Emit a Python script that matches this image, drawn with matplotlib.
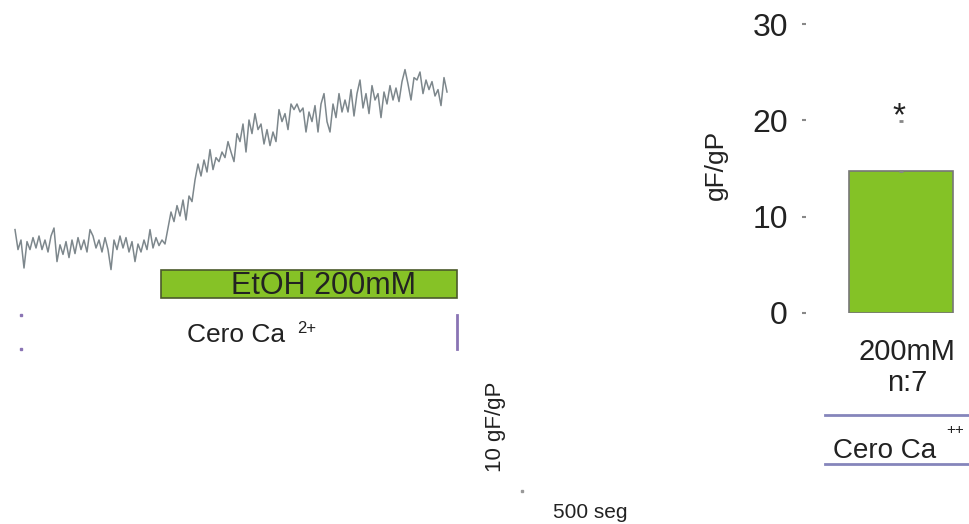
import numpy as np
import matplotlib
matplotlib.use("Agg")
import matplotlib.pyplot as plt
from matplotlib.lines import Line2D

plt.rcParams['font.family'] = ['Liberation Sans', 'DejaVu Sans']

# Fluorescence trace (gF/gP), one sample every 12 s
sample_period = 12
trace = [1.9, -0.6, 0.6, -2.9, 0.4, -0.6, 0.9, -0.4, 1.1, -0.6,
         0.6, -0.9, 1.1, 2.1, -2.1, 0.0, -1.2, 0.4, -1.6, 0.6,
         -1.1, 0.9, -0.6, 0.6, -0.9, 1.9, 1.1, -0.4, 0.6, -0.9,
         0.9, -0.6, -3.1, 0.6, -0.6, 1.1, -0.4, 0.9, -0.9, 0.4,
         -2.1, 0.1, -0.9, 0.6, -0.6, 1.9, -0.4, 0.9, -0.1, 0.6,
         0.1, 2.1, 4.1, 2.9, 4.9, 3.6, 5.6, 3.1, 6.1, 5.4,
         8.1, 10.1, 8.6, 10.6, 9.1, 11.9, 9.4, 10.9, 10.4, 11.6,
         10.9, 12.9, 11.6, 10.4, 13.9, 12.9, 15.1, 11.6, 15.6, 13.9,
         16.4, 14.4, 15.1, 12.6, 14.4, 12.4, 14.1, 12.9, 16.9, 15.4,
         16.4, 14.4, 17.6, 16.9, 17.6, 16.6, 17.1, 14.1, 16.6, 15.4,
         17.4, 14.1, 17.6, 18.9, 15.4, 14.1, 17.6, 15.9, 18.9, 16.6,
         18.1, 16.6, 19.4, 16.1, 18.9, 20.6, 17.1, 18.9, 16.4, 19.9,
         18.1, 18.9, 15.9, 19.1, 17.6, 19.9, 18.1, 19.6, 17.9, 20.4,
         21.9, 20.1, 18.1, 20.9, 20.6, 21.6, 18.9, 20.6, 19.4, 20.4,
         18.6, 19.4, 17.4, 20.9, 19.1]
time_s = np.arange(len(trace)) * sample_period

# EtOH application window (s)
etoh_start = 584
etoh_end = 1768

# Summary bar
groups = ['200mM\nn:7']
means = [14.7]
sems = [5.2]

W, H = 970, 524
fig = plt.figure(figsize=(W / 100, H / 100), dpi=100)


def fx(x):
    return x / W


def fy(y):
    return 1 - y / H


# ---- trace panel ----
ax = fig.add_axes([0, fy(524), fx(640), (524 - 40) / H])
ax.plot(time_s, trace, color='#7d878c', lw=1.1)
ax.barh(-4.9, etoh_end - etoh_start, left=etoh_start, height=3.6,
        color='#86c226', edgecolor='#4b5a2b', lw=1.2)
ax.plot([etoh_end, etoh_end], [-8.75, -13.0], color='#8a74b4', lw=2)
ax.plot([24, 24], [-8.75, -13.0], color='#8a74b4', lw=0,
        marker='s', ms=1.5)
ax.plot([2028], [-30.75], color='#999999', marker='s', ms=1.5)
ax.set_xlim(-60, 2500)
ax.set_ylim(-34.9, 25.6)
ax.axis('off')

fig.text(fx(324), fy(286), 'EtOH 200mM', ha='center', va='center',
         fontsize=22, color='#222222')
fig.text(fx(187), fy(342), 'Cero Ca', ha='left', va='baseline',
         fontsize=19, color='#222222')
fig.text(fx(297), fy(333), '2+', ha='left', va='baseline',
         fontsize=12, color='#222222')
fig.text(fx(496), fy(427), '10 gF/gP', ha='center', va='center',
         rotation=90, fontsize=16, color='#222222')
fig.text(fx(553), fy(512), '500 seg', ha='left', va='center',
         fontsize=15, color='#222222')

# ---- bar panel ----
bx = fig.add_axes([fx(806), fy(313), (970 - 806) / W, 313 / H])
bx.bar([0], means, width=1.0, color='#84c226', edgecolor='#777777', lw=1.2)
bx.errorbar([0], means, yerr=[[0], sems], fmt='none', ecolor='#888888',
            elinewidth=0, capsize=1.5, capthick=2)
bx.text(-0.02, means[0] + sems[0] + 0.45, '*', ha='center', va='center',
        fontsize=24, color='#222222')
bx.set_xlim(-0.91, 0.66)
bx.set_ylim(0, 32.5)
bx.set_yticks([0, 10, 20, 30])
bx.set_xticks([0.06])
bx.set_xticklabels(groups, fontsize=21, color='#222222', linespacing=1.15)
bx.tick_params(axis='y', length=3, width=1.5, color='#888888', pad=10,
               labelsize=23, labelcolor='#222222')
bx.tick_params(axis='x', length=0, pad=18)
for s in bx.spines.values():
    s.set_visible(False)
bx.patch.set_alpha(0)

fig.text(fx(716), fy(165), 'gF/gP', ha='center', va='center', rotation=90,
         fontsize=19, color='#222222')

for yy in (415, 464):
    fig.add_artist(Line2D([fx(825), fx(970)], [fy(yy), fy(yy)],
                          transform=fig.transFigure, color='#8585bb', lw=2))
fig.text(fx(833), fy(458), 'Cero Ca', ha='left', va='baseline',
         fontsize=20, color='#222222')
fig.text(fx(946), fy(434), '++', ha='left', va='baseline',
         fontsize=11, color='#222222')

fig.savefig('out.png', dpi=100)
